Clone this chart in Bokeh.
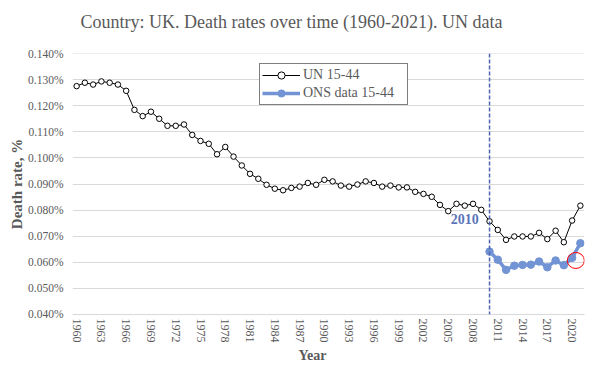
import math
from bokeh.plotting import figure
from bokeh.models import (Range1d, FixedTicker, PrintfTickFormatter, Span, Label, Title,
                          Legend, LegendItem, ColumnDataSource)
from bokeh.embed import file_html
from bokeh.resources import INLINE

# ---- data ----
years = list(range(1960, 2022))
un_15_44 = [0.1275, 0.1288, 0.1281, 0.1293, 0.1288, 0.1281, 0.1257, 0.1184, 0.1160, 0.1177,
            0.1150, 0.1123, 0.1123, 0.1128, 0.1088, 0.1065, 0.1054, 0.1014, 0.1042, 0.1005,
            0.0971, 0.0939, 0.0920, 0.0897, 0.0882, 0.0876, 0.0885, 0.0890, 0.0904, 0.0897,
            0.0916, 0.0910, 0.0894, 0.0890, 0.0898, 0.0910, 0.0904, 0.0890, 0.0894, 0.0887,
            0.0887, 0.0870, 0.0862, 0.0851, 0.0820, 0.0796, 0.0824, 0.0817, 0.0824, 0.0801,
            0.0757, 0.0724, 0.0686, 0.0699, 0.0699, 0.0699, 0.0713, 0.0689, 0.0721, 0.0677,
            0.0760, 0.0817]
ons_years = list(range(2010, 2022))
ons_15_44 = [0.0641, 0.0610, 0.0571, 0.0587, 0.0590, 0.0591, 0.0603, 0.0581, 0.0607, 0.0589,
             0.0617, 0.0673]
x_tick_years = list(range(1960, 2021, 3))
y_ticks = [0.04, 0.05, 0.06, 0.07, 0.08, 0.09, 0.10, 0.11, 0.12, 0.13, 0.14]
marker_year = 2010
highlight_year = 2020.45
highlight_value = 0.0607

title_text = "Country: UK. Death rates over time (1960-2021). UN data"
x_label = "Year"
y_label = "Death rate, %"

FONT = "Liberation Serif"
GREY = "#595959"

p = figure(width=590, height=362, output_backend="svg", toolbar_location=None,
           title_location=None,
           x_range=Range1d(1959.5, 2021.5), y_range=Range1d(0.0399999, 0.1400001),
           min_border_left=72, min_border_right=6, min_border_top=53, min_border_bottom=48)
p.outline_line_color = None
p.background_fill_color = "white"
p.border_fill_color = "white"

# grid
p.xgrid.visible = False
p.ygrid.ticker = FixedTicker(ticks=y_ticks)
p.ygrid.grid_line_color = "#d9d9d9"
p.ygrid.grid_line_width = 1

# axes
p.xaxis.ticker = FixedTicker(ticks=x_tick_years)
p.xaxis.major_label_orientation = -math.pi / 2
p.xaxis.major_label_standoff = 4
p.xaxis.axis_line_color = "#d9d9d9"
p.xaxis.major_label_text_font_size = "12px"
p.yaxis.ticker = FixedTicker(ticks=y_ticks)
p.yaxis.formatter = PrintfTickFormatter(format="%.3f%%")
p.yaxis.axis_line_color = None
p.yaxis.major_label_standoff = 9
p.yaxis.major_label_text_font_size = "11.5px"
p.yaxis.axis_label = y_label
p.yaxis.axis_label_standoff = 0
p.yaxis.axis_label_text_font = FONT
p.yaxis.axis_label_text_font_size = "15px"
p.yaxis.axis_label_text_font_style = "bold"
p.yaxis.axis_label_text_color = GREY
for ax in (p.xaxis, p.yaxis):
    ax.major_label_text_font = FONT
    ax.major_label_text_color = GREY
    ax.major_tick_line_color = None
    ax.minor_tick_line_color = None
    ax.major_tick_out = 0
    ax.major_tick_in = 0
    ax.minor_tick_out = 0
    ax.minor_tick_in = 0

# vertical marker line
p.add_layout(Span(location=marker_year, dimension="height", line_color="#4a66b0",
                  line_dash="4 2", line_width=1.5))

# series
un_src = ColumnDataSource(dict(x=years, y=un_15_44))
ons_src = ColumnDataSource(dict(x=ons_years, y=ons_15_44))
ons_line = p.line("x", "y", source=ons_src, line_color="#7294d4", line_width=3.5)
ons_pts = p.scatter("x", "y", source=ons_src, size=7.5, fill_color="#7294d4",
                    line_color="#7294d4")
un_line = p.line("x", "y", source=un_src, line_color="black", line_width=1)
un_pts = p.scatter("x", "y", source=un_src, size=5.5, fill_color="white",
                   line_color="black", line_width=1)

# highlight circle
p.ellipse(x=[highlight_year], y=[highlight_value], width=17, height=16,
          width_units="screen", height_units="screen",
          fill_color=None, line_color="red", line_width=1)

# 2010 label
p.add_layout(Label(x=marker_year - 1.3, y=0.0765, text=str(marker_year),
                   text_align="right", text_baseline="middle",
                   text_font=FONT, text_font_size="14px", text_font_style="bold",
                   text_color="#5b74b9"))

# spacer between frame and title, then the title (above); x label (below)
p.add_layout(Title(text=" ", standoff=10, text_font=FONT, text_font_size="1px"), "above")
p.add_layout(Title(text=title_text, align="left", offset=8, standoff=18,
                   text_font=FONT, text_font_size="18px", text_font_style="normal",
                   text_color=GREY), "above")
p.add_layout(Title(text=x_label, align="left", offset=226, standoff=0,
                   text_font=FONT, text_font_size="14px", text_font_style="bold",
                   text_color=GREY), "below")

legend = Legend(items=[LegendItem(label="UN 15-44", renderers=[un_line, un_pts]),
                       LegendItem(label="ONS data 15-44", renderers=[ons_line, ons_pts])],
                location=(187, 209), orientation="vertical",
                border_line_color="black", border_line_width=1,
                background_fill_color="white", background_fill_alpha=1,
                padding=2, spacing=0, margin=0, label_standoff=3,
                glyph_width=38, glyph_height=18, label_height=18, label_width=102,
                label_text_font=FONT, label_text_font_size="14px",
                label_text_color=GREY)
p.add_layout(legend)

open("out.html", "w").write(file_html(p, INLINE))
